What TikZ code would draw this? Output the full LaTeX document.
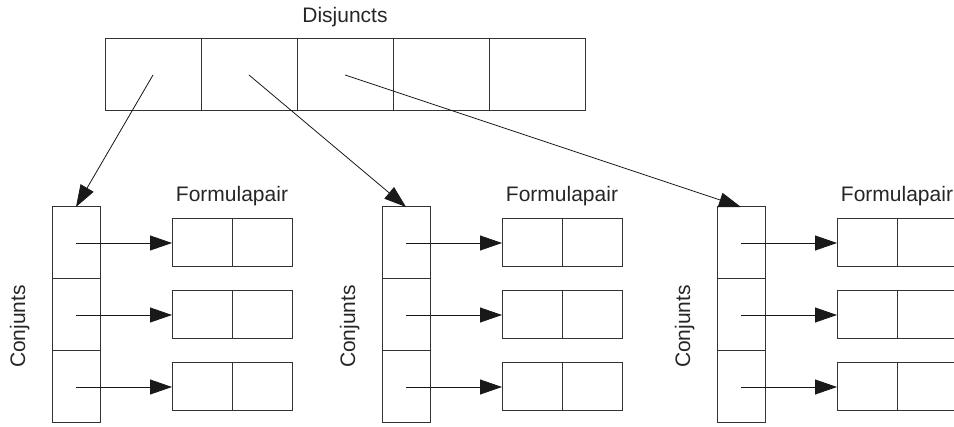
\documentclass[tikz,border=0pt]{standalone}
\usepackage{fontspec}
\setmainfont{Liberation Sans}
\usetikzlibrary{arrows.meta}
\begin{document}
\begin{tikzpicture}[x=1pt,y=-1pt,
  box/.style={draw=black!80, line width=1pt, inner sep=0pt, outer sep=0pt},
  dcell/.style={box, minimum width=96pt, minimum height=72pt},
  ccell/.style={box, minimum width=48pt, minimum height=72pt},
  fcell/.style={box, minimum width=60pt, minimum height=48pt},
  lbl/.style={font=\fontsize{21}{25}\selectfont, text=black!85, inner sep=0pt},
  arr/.style={draw=black!90, line width=0.8pt, -{Triangle[length=22pt,width=15pt]}}]
\useasboundingbox (0,0) rectangle (954,427);
\clip (0,0) rectangle (954,427);
% Disjuncts
\foreach \k in {1,...,5} {
  \node[dcell, anchor=north west] (d\k) at ({105+96*(\k-1)},39) {};
}
\node[lbl, anchor=base] (dl) at (345,23) {Disjuncts};
% Conjunct columns and formula pairs
\foreach \i/\cx in {1/52,2/382,3/717} {
  \foreach \j/\cy in {1/207,2/279,3/351} {
    \node[ccell, anchor=north west] (c\i-\j) at (\cx,\cy) {};
    \node[fcell, anchor=north west] (f\i-\j-a) at (\cx+120,\cy+12) {};
    \node[fcell, anchor=north west] (f\i-\j-b) at (\cx+180,\cy+12) {};
    \draw[arr] (c\i-\j.center) -- (f\i-\j-a.west);
  }
  \node[lbl, anchor=base] (fl\i) at (\cx+180,202) {Formulapair};
  \node[lbl, anchor=base, rotate=90] (cl\i) at (\cx-27,326.5) {Conjunts};
}
% Disjunct pointers
\draw[arr] (d1.center) -- (c1-1.north);
\draw[arr] (d2.center) -- (c2-1.north);
\draw[arr] (d3.center) -- (c3-1.north);
\end{tikzpicture}
\end{document}
